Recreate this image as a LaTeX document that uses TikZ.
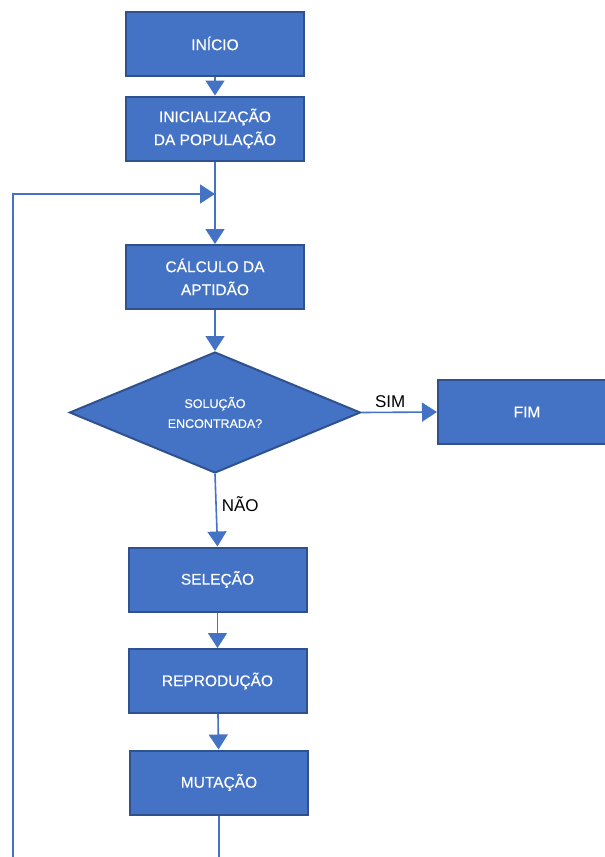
\documentclass[tikz,border=0pt]{standalone}
\usepackage{fontspec}
\setmainfont{Liberation Sans}
\newfontfamily\boxfont[FakeBold=0.35]{Liberation Sans}
\usetikzlibrary{shapes.geometric,arrows.meta}
\definecolor{boxfill}{HTML}{4472C4}
\definecolor{boxline}{HTML}{2F528F}
\begin{document}
\begin{tikzpicture}[x=1pt,y=-1pt,
  stepbox/.style={draw=boxline,line width=2pt,fill=boxfill,minimum width=178pt,minimum height=64pt,
    text=white,font=\boxfont\fontsize{15.5}{23}\selectfont,align=center,inner sep=0pt},
  decbox/.style={shape=diamond,aspect=2.4,draw=boxline,line width=2pt,fill=boxfill,minimum width=291pt,
    minimum height=121pt,text=white,font=\boxfont\fontsize{12.5}{20}\selectfont,align=center,inner sep=0pt},
  conn/.style={draw=boxfill,line width=1.6pt},
  arr/.style={conn,-{Triangle[length=15pt,width=19pt]}},
  lbl/.style={font=\fontsize{17}{20}\selectfont,text=black,inner sep=0pt}]
\useasboundingbox (0,0) rectangle (605,857);
\node[stepbox] (inicio) at (215,43.5) {INÍCIO};
\node[stepbox] (inic) at (215,128.5) {INICIALIZAÇÃO\\DA POPULAÇÃO};
\node[stepbox] (calc) at (215,277) {CÁLCULO DA\\APTIDÃO};
\node[decbox] (dec) at (215,412.5) {SOLUÇÃO\\ENCONTRADA?};
\node[stepbox] (fim) at (527,412) {FIM};
\node[stepbox] (sel) at (217.5,579.5) {SELEÇÃO};
\node[stepbox] (rep) at (217.5,681) {REPRODUÇÃO};
\node[stepbox] (mut) at (219,782.5) {MUTAÇÃO};
\coordinate (junc) at (215,194);
\coordinate (looptop) at (13,194);
\coordinate (loopbot) at (13,857);
\coordinate (mutbot) at (219,857);
\draw[arr] (inicio) -- (inic);
\draw[conn] (inic.south) -- (junc);
\draw[arr] (junc) -- (calc.north);
\draw[arr] (loopbot) -- (looptop) -- (junc);
\draw[arr] (calc) -- (dec.north);
\draw[arr] (dec.east) -- node[lbl,pos=0.38,above=4pt] {SIM} (fim.west);
\draw[arr] (dec.south) -- node[lbl,pos=0.42,right=5pt] {NÃO} (sel.north);
\draw[arr] (sel) -- (rep);
\draw[arr] (rep) -- (mut);
\draw[conn] (mut.south) -- (mutbot);
\end{tikzpicture}
\end{document}
